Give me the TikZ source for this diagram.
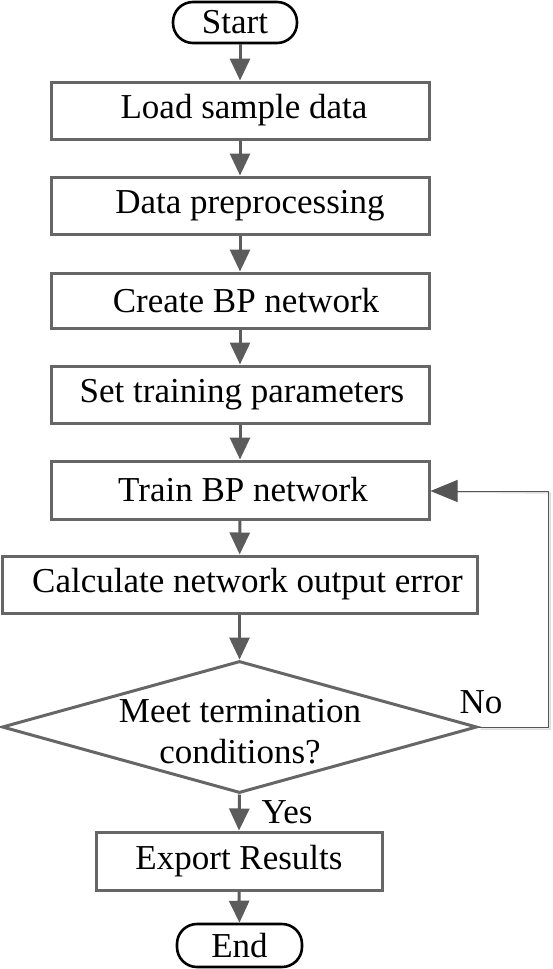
\documentclass[tikz,border=0pt]{standalone}
\usepackage{fontspec}
\setmainfont{Liberation Serif}
\usetikzlibrary{arrows.meta,shapes.geometric,calc}
\definecolor{boxgray}{HTML}{666666}
\definecolor{arrgray}{HTML}{5C5C5C}
\definecolor{fbgray}{HTML}{555555}
\definecolor{shgray}{HTML}{DDDDDD}
\tikzset{
  txt/.style={font=\fontsize{35}{41}\selectfont, text=black},
  terminal/.style={txt, draw=black, line width=2.6pt, rounded corners=20pt, inner sep=0pt},
  procbox/.style={txt, draw=boxgray, line width=3pt, inner sep=0pt},
  dia/.style={diamond, draw=boxgray, line width=3pt, inner sep=0pt, minimum width=475pt, minimum height=132pt},
  flow/.style={draw=arrgray, line width=3pt, -{Triangle[width=20pt,length=22pt]}},
  fb/.style={draw=fbgray, line width=1pt, -{Triangle[width=22pt,length=27pt]}},
  fbshadow/.style={draw=shgray, line width=1.5pt}
}
\begin{document}
\begin{tikzpicture}[x=1pt,y=-1pt]
\useasboundingbox (0,0) rectangle (552,969);
\node[terminal, minimum width=124pt, minimum height=41pt] (start) at (235,22.5) {Start};
\node[procbox, minimum width=378pt, minimum height=57pt] (b1) at (240,110.5) {\hspace{8pt}Load sample data};
\node[procbox, minimum width=378pt, minimum height=57pt] (b2) at (240,205.5) {\hspace{20pt}Data preprocessing};
\node[procbox, minimum width=378pt, minimum height=55pt] (b3) at (240,300.5) {\hspace{12pt}Create BP network};
\node[procbox, minimum width=378pt, minimum height=57pt] (b4) at (240,394.5) {\hspace{4pt}Set training parameters};
\node[procbox, minimum width=378pt, minimum height=58pt] (b5) at (240,490) {\hspace{6pt}Train BP network};
\node[procbox, minimum width=475pt, minimum height=57pt] (b6) at (239.5,584.5) {\hspace{16pt}Calculate network output error};
\node[dia] (d) at (239.5,727) {};
\node[txt, align=center] (dt) at (240,732) {Meet termination\\conditions?};
\node[procbox, minimum width=286pt, minimum height=58pt] (ex) at (239,861) {Export Results};
\node[terminal, minimum width=125pt, minimum height=43pt] (end) at (239.5,945.5) {End};
\node[txt] (no) at (481,702) {No};
\node[txt] (yes) at (287,812) {Yes};
\coordinate (c1) at (548,727);
\coordinate (c2) at (548,491);
\draw[flow] (b1.north |- start.south) -- (b1.north);
\draw[flow] (b1) -- (b2);
\draw[flow] (b2) -- (b3);
\draw[flow] (b3) -- (b4);
\draw[flow] (b4) -- (b5);
\draw[flow] (b5) -- (b6);
\draw[flow] (b6.south) -- (d.north);
\draw[flow] (d.south) -- (ex.north);
\draw[flow] (ex.south) -- (end.north);
\draw[fbshadow] ([shift={(2,2)}]d.east) -- ([shift={(2,2)}]c1) -- ([shift={(2,2)}]c2) -- ([shift={(24,2)}]b5.east);
\draw[fb] (d.east) -- (c1) -- (c2) -- (b5.east |- c2);
\end{tikzpicture}
\end{document}
